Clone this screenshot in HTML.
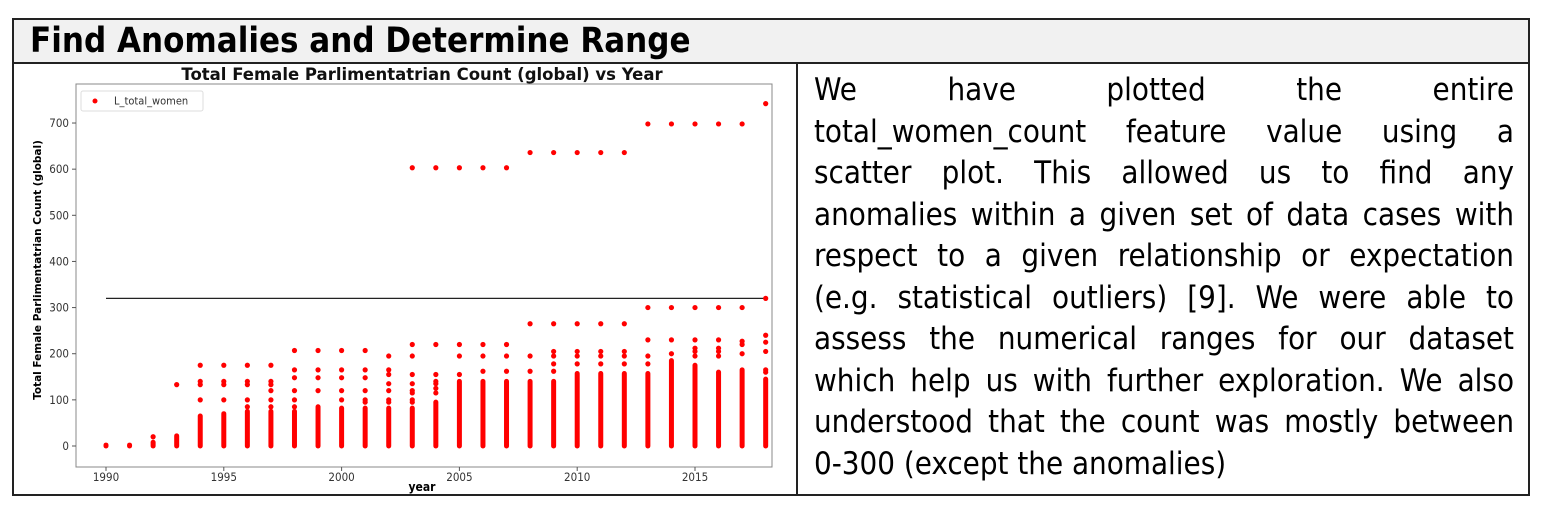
<!DOCTYPE html>
<html><head><meta charset="utf-8"><style>
body{margin:0;background:#fff;width:1552px;height:516px;overflow:hidden;font-family:"Liberation Sans",sans-serif}
#frame{position:absolute;left:12px;top:18px;width:1518px;height:478px;border:2px solid #222;box-sizing:border-box}
#hdr{position:absolute;left:0;top:0;width:100%;height:44px;background:#f1f1f1;border-bottom:2px solid #222;box-sizing:border-box}
#hdr h1{margin:0;position:absolute;left:16px;top:1px;font-family:"DejaVu Sans Condensed","DejaVu Sans",sans-serif;font-size:34.5px;font-weight:bold}
#div{position:absolute;left:782px;top:43px;width:2px;height:433px;background:#222}
#txt{position:absolute;left:800px;top:50px;width:700px;font-family:"DejaVu Sans Condensed","DejaVu Sans",sans-serif;font-size:31px;line-height:41.5px;color:#000}
#txt div{text-align:justify;text-align-last:justify;white-space:nowrap}
#txt div.last{text-align-last:left}
svg{position:absolute;left:0;top:0}
</style></head><body>
<div id="frame">
<div id="hdr"><h1>Find Anomalies and Determine Range</h1></div>
<div id="div"></div>
<div id="txt">
<div>We have plotted the entire</div>
<div>total_women_count feature value using a</div>
<div>scatter plot. This allowed us to find any</div>
<div>anomalies within a given set of data cases with</div>
<div>respect to a given relationship or expectation</div>
<div>(e.g. statistical outliers) [9]. We were able to</div>
<div>assess the numerical ranges for our dataset</div>
<div>which help us with further exploration. We also</div>
<div>understood that the count was mostly between</div>
<div class="last">0-300 (except the anomalies)</div>
</div>
</div>
<svg id="chart" width="800" height="516"></svg>
<script>
const years=[1990,1991,1992,1993,1994,1995,1996,1997,1998,1999,2000,2001,2002,2003,2004,2005,2006,2007,2008,2009,2010,2011,2012,2013,2014,2015,2016,2017,2018];
const denseMax=[2,2,8,22,65,70,75,75,75,85,82,82,82,82,95,140,140,140,140,140,157,157,157,157,185,175,160,165,145];
const extras=[[],[],[20],[133],[100,133,140,175],[100,133,140,175],[85,100,133,140,175],[85,100,120,133,140,175],[85,100,120,148,165,207],[120,148,165,207],[100,120,148,165,207],[95,100,120,148,165,207],[95,100,120,135,155,165,195],[95,100,115,120,135,155,195,220],[115,125,135,140,155,220],[155,195,220],[162,195,220],[162,195,220],[162,195,265],[162,178,195,205,265],[178,195,205,265],[178,195,205,265],[178,195,205,265],[178,195,230,300],[200,230,300],[195,205,212,230,300],[195,205,212,230,300],[200,220,227,300],[160,165,205,225,240,320]];
const anomalies=[null,null,null,null,null,null,null,null,null,null,null,null,null,603,603,603,603,603,636,636,636,636,636,698,698,698,698,698,742];
const refLine=320;
const xTicks=[1990,1995,2000,2005,2010,2015];
const yTicks=[0,100,200,300,400,500,600,700];
const NS='http://www.w3.org/2000/svg';
const svg=document.getElementById('chart');
const X=v=>106+(v-1990)*23.56;
const Y=v=>446-v*0.4614;
function mk(t,a,p){const e=document.createElementNS(NS,t);for(const k in a)e.setAttribute(k,a[k]);(p||svg).appendChild(e);return e;}
let box=mk('rect',{x:76,y:84,width:696,height:383,fill:'none',stroke:'#888','stroke-width':1});


let t=mk('text',{x:422,y:80,'text-anchor':'middle','font-size':16.5,'font-weight':'bold',fill:'#111','font-family':'DejaVu Sans, sans-serif'});t.textContent='Total Female Parlimentatrian Count (global) vs Year';


let xl=mk('text',{x:422,y:491,'text-anchor':'middle','font-size':12,'font-weight':'bold','font-family':'DejaVu Sans Condensed, sans-serif'});xl.textContent='year';


let yl=mk('text',{x:0,y:0,'text-anchor':'middle','font-size':10.5,'font-weight':'bold','font-family':'DejaVu Sans, sans-serif',transform:'translate(41,270) rotate(-90)'});yl.textContent='Total Female Parlimentatrian Count (global)';


xTicks.forEach(v=>{mk('line',{x1:X(v),x2:X(v),y1:467,y2:471,stroke:'#555'});let e=mk('text',{x:X(v),y:481,'text-anchor':'middle','font-size':11.5,fill:'#333','font-family':'DejaVu Sans Condensed, sans-serif'});e.textContent=v;

});
yTicks.forEach(v=>{mk('line',{x1:72,x2:76,y1:Y(v),y2:Y(v),stroke:'#555'});let e=mk('text',{x:69,y:Y(v)+4,'text-anchor':'end','font-size':11.5,fill:'#333','font-family':'DejaVu Sans Condensed, sans-serif'});e.textContent=v;

});
let rl=mk('line',{x1:X(years[0]),x2:X(years[years.length-1]),y1:Y(refLine),y2:Y(refLine),stroke:'#222','stroke-width':1.3});


years.forEach((yr,i)=>{
 const x=X(yr);
 let c=mk('rect',{x:x-2.5,y:Y(denseMax[i])-2.5,width:5,height:Y(0)-Y(denseMax[i])+5,rx:2.5,fill:'#f00'});
 
 
 extras[i].forEach(v=>{let p=mk('circle',{cx:x,cy:Y(v),r:2.6,fill:'#f00'});
 
 });
 if(anomalies[i]!==null){let p=mk('circle',{cx:x,cy:Y(anomalies[i]),r:2.6,fill:'#f00'});
 
 }
});
let lg=mk('g',{});


mk('rect',{x:81,y:91,width:122,height:20,fill:'#fff',stroke:'#ddd',rx:2},lg);
mk('circle',{cx:95,cy:101,r:2.5,fill:'#f00'},lg);
let lt=mk('text',{x:114,y:104.5,'font-size':11,fill:'#333','font-family':'DejaVu Sans Condensed, sans-serif'},lg);lt.textContent='L_total_women';


</script>
</body></html>
